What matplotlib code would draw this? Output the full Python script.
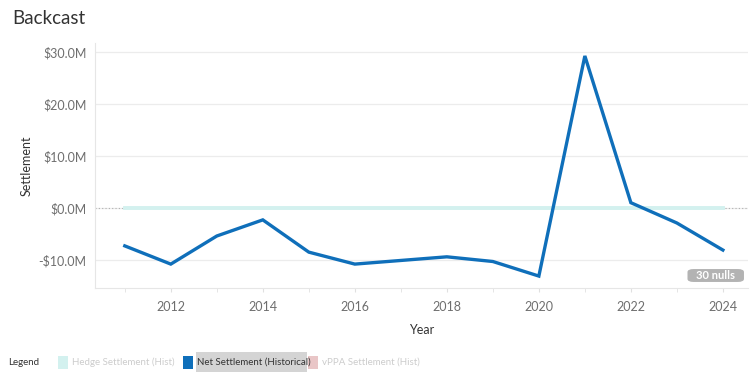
import matplotlib.pyplot as plt
from matplotlib.patches import Rectangle, FancyBboxPatch
from matplotlib.ticker import FuncFormatter, MultipleLocator

plt.rcParams['font.family'] = ['Lato', 'DejaVu Sans']

# data
years = [2011, 2012, 2013, 2014, 2015, 2016, 2017, 2018, 2019, 2020, 2021, 2022, 2023, 2024]
net_settlement = [-7.3, -10.8, -5.4, -2.3, -8.5, -10.8, -10.1, -9.4, -10.3, -13.1, 29.2, 1.0, -2.9, -8.1]
hedge_settlement = [0.0] * len(years)
legend_labels = ['Hedge Settlement (Hist)', 'Net Settlement (Historical)', 'vPPA Settlement (Hist)']
legend_colors = ['#d3f1ef', '#0f6fba', '#e9c6c7']

fig = plt.figure(figsize=(7.53, 3.8), dpi=100)
ax = fig.add_axes([0.126, 0.242, 0.867, 0.645])

ax.axhline(0, color='#b0b0b0', lw=0.8, ls=(0, (1, 2)), zorder=1)
ax.plot(years, hedge_settlement, color='#d3f1ef', lw=2.8, zorder=2)
ax.plot(years, net_settlement, color='#0f6fba', lw=2.4, zorder=3, solid_joinstyle='miter')

ax.set_xlim(2010.35, 2024.54)
ax.set_ylim(-15.4, 31.7)
ax.set_yticks([-10, 0, 10, 20, 30])
ax.yaxis.set_major_formatter(FuncFormatter(lambda v, p: f'${v:.1f}M' if v >= 0 else f'-${-v:.1f}M'))
ax.set_xticks([2012, 2014, 2016, 2018, 2020, 2022, 2024])
ax.xaxis.set_minor_locator(MultipleLocator(1))
ax.grid(axis='y', color='#ececec', lw=0.9)
ax.set_axisbelow(True)

for s in ['top', 'right']:
    ax.spines[s].set_visible(False)
for s in ['left', 'bottom']:
    ax.spines[s].set_color('#e6e6e6')
ax.tick_params(axis='y', length=0, labelsize=9, labelcolor='#6e6e6e', pad=6)
ax.tick_params(axis='x', which='both', length=3, color='#e0e0e0', labelsize=9, labelcolor='#6e6e6e', pad=6)

ax.set_ylabel('Settlement', fontsize=9, color='#333333', labelpad=4)
ax.set_xlabel('Year', fontsize=9, color='#333333', labelpad=8)

fig.text(0.016, 0.952, 'Backcast', fontsize=13.5, color='#333333', va='center')

# nulls badge
badge = FancyBboxPatch((0.913, 0.258), 0.075, 0.034, boxstyle='round,pad=0,rounding_size=0.008',
                       transform=fig.transFigure, facecolor='#b3b3b3', edgecolor='none')
fig.patches.append(badge)
fig.text(0.9505, 0.275, '30 nulls', fontsize=8, color='white', weight='bold', ha='center', va='center')

# legend
ly = 0.047
fig.text(0.011, ly, 'Legend', fontsize=7, color='#333333', va='center')
xs = [0.077, 0.243, 0.409]
for x0, lab, col in zip(xs, legend_labels, legend_colors):
    fig.patches.append(Rectangle((x0, ly - 0.017), 0.013, 0.034, transform=fig.transFigure,
                                 facecolor=col, edgecolor='none'))
    if lab.startswith('Net'):
        fig.patches.append(Rectangle((x0 + 0.017, ly - 0.027), 0.148, 0.054, transform=fig.transFigure,
                                     facecolor='#d4d4d4', edgecolor='none'))
        fig.text(x0 + 0.019, ly, lab, fontsize=7, color='#333333', va='center')
    else:
        fig.text(x0 + 0.019, ly, lab, fontsize=7, color='#cccccc', va='center')

fig.savefig('out.png', dpi=100)
